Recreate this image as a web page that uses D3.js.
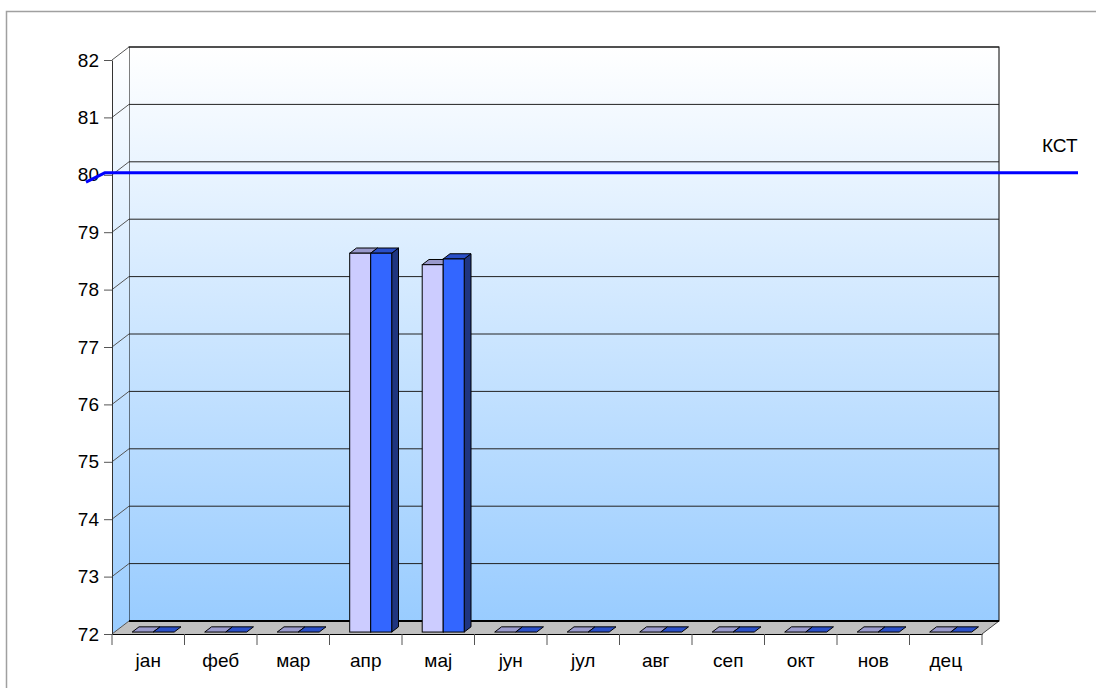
<!DOCTYPE html>
<html>
<head>
<meta charset="utf-8">
<script src="https://cdn.jsdelivr.net/npm/d3@7"></script>
<style>
body { margin: 0; background: #fff; }
svg { display: block; font-family: "Liberation Sans", Arial, sans-serif; }
</style>
</head>
<body>
<svg id="chart" width="1096" height="688"></svg>
<script>
// data
var months = ["јан","феб","мар","апр","мај","јун","јул","авг","сеп","окт","нов","дец"];
var series1 = [0, 0, 0, 78.6, 78.4, 0, 0, 0, 0, 0, 0, 0];
var series2 = [0, 0, 0, 78.6, 78.5, 0, 0, 0, 0, 0, 0, 0];
var yTicks = [72, 73, 74, 75, 76, 77, 78, 79, 80, 81, 82];
var kstT = [0, 0.019, 1];
var kstValues = [79.84, 80, 80];
var kstLabel = "КСТ";

var svg = d3.select("#chart");
var FS = 19, FONT = "Liberation Sans, Arial, sans-serif";

// 3d depth offsets
var DX = 17, DY = -13;
function proj(x, y, z) { return [x + DX * z, y + DY * z]; }

var x = d3.scaleBand().domain(months).range([112, 982]).padding(0);
var y = d3.scaleLinear().domain([72, 82]).range([634, 60]);
var kstX = d3.scaleLinear().domain([0, 1]).range([86, 1078]);

var defs = svg.append("defs");
var grad = defs.append("linearGradient").attr("id", "wall").attr("x1", 0).attr("y1", 0).attr("x2", 0).attr("y2", 1);
grad.append("stop").attr("offset", "0%").attr("stop-color", "#ffffff");
grad.append("stop").attr("offset", "100%").attr("stop-color", "#99ccff");

// outer border
svg.append("rect").attr("x", 6.5).attr("y", 11.5).attr("width", 1200).attr("height", 800)
  .attr("fill", "none").attr("stroke", "#a0a0a0").attr("stroke-width", 1.5);

var x0 = x.range()[0], x1 = x.range()[1];
var yMin = y(72), yMax = y(82);

function poly(pts) { return "M" + pts.map(function(p) { return p.join(","); }).join("L") + "Z"; }

// back wall
var bw0 = proj(x0, yMax, 1), bw1 = proj(x1, yMin, 1);
svg.append("rect").attr("x", bw0[0]).attr("y", bw0[1])
  .attr("width", bw1[0] - bw0[0]).attr("height", bw1[1] - bw0[1])
  .attr("fill", "url(#wall)").attr("stroke", "#000").attr("stroke-width", 1);

// left wall
svg.append("path")
  .attr("d", poly([proj(x0, yMax, 0), proj(x0, yMax, 1), proj(x0, yMin, 1), proj(x0, yMin, 0)]))
  .attr("fill", "url(#wall)").attr("stroke", "none");

// floor
svg.append("path")
  .attr("d", poly([proj(x0, yMin, 0), proj(x0, yMin, 1), proj(x1, yMin, 1), proj(x1, yMin, 0)]))
  .attr("fill", "#c0c0c0").attr("stroke", "none");
svg.append("line")
  .attr("x1", proj(x1, yMin, 0)[0]).attr("y1", proj(x1, yMin, 0)[1])
  .attr("x2", proj(x1, yMin, 1)[0]).attr("y2", proj(x1, yMin, 1)[1])
  .attr("stroke", "#444").attr("stroke-width", 1);

// gridlines
svg.selectAll(".grid").data(yTicks.slice(1)).enter().append("line")
  .attr("class", "grid")
  .attr("x1", function(d) { return proj(x0, y(d), 1)[0]; })
  .attr("x2", function(d) { return proj(x1, y(d), 1)[0]; })
  .attr("y1", function(d) { return proj(x0, y(d), 1)[1]; })
  .attr("y2", function(d) { return proj(x0, y(d), 1)[1]; })
  .attr("stroke", "#222").attr("stroke-width", 1);
svg.selectAll(".sgrid").data(yTicks).enter().append("line")
  .attr("class", "sgrid")
  .attr("x1", function(d) { return proj(x0, y(d), 0)[0]; })
  .attr("y1", function(d) { return proj(x0, y(d), 0)[1]; })
  .attr("x2", function(d) { return proj(x0, y(d), 1)[0]; })
  .attr("y2", function(d) { return proj(x0, y(d), 1)[1]; })
  .attr("stroke", "#555").attr("stroke-width", 1);
// floor back edge
svg.append("line")
  .attr("x1", proj(x0, yMin, 1)[0]).attr("x2", proj(x1, yMin, 1)[0])
  .attr("y1", proj(x0, yMin, 1)[1]).attr("y2", proj(x0, yMin, 1)[1])
  .attr("stroke", "#000").attr("stroke-width", 2);

// left axis
var yAxis = svg.append("g").attr("transform", "translate(" + x0 + ",0)")
  .call(d3.axisLeft(y).tickValues(yTicks).tickSize(8).tickPadding(5).tickSizeOuter(0));
yAxis.select(".domain").attr("stroke", "#333");
yAxis.selectAll(".tick line").attr("stroke", "#555");
yAxis.selectAll("text").attr("font-size", FS).attr("fill", "#000").attr("font-family", FONT);

// bottom axis (labels at centres, ticks at boundaries)
var xAxis = svg.append("g").attr("transform", "translate(0," + yMin + ")")
  .call(d3.axisBottom(x).tickSize(0).tickPadding(667 - 634 - 0.71 * FS));
xAxis.select(".domain").attr("stroke", "#000");
xAxis.selectAll("text").attr("font-size", FS).attr("fill", "#000").attr("font-family", FONT);
svg.selectAll(".xtick").data(months.concat(["end"])).enter().append("line")
  .attr("class", "xtick")
  .attr("x1", function(d) { return d === "end" ? x1 : x(d); })
  .attr("x2", function(d) { return d === "end" ? x1 : x(d); })
  .attr("y1", yMin).attr("y2", yMin + 11)
  .attr("stroke", "#555").attr("stroke-width", 1);

// bars
var barW = 21, z0 = 0.15, z1 = 0.55;
var styles = [
  { front: "#ccccff", top: "#9999cc", side: "#8080b0" },
  { front: "#3366ff", top: "#2a4fc8", side: "#1f3580" }
];
var allBars = [];
months.forEach(function(m, i) {
  [series1, series2].forEach(function(s, k) {
    allBars.push({ m: m, k: k, v: Math.max(72, s[i]) });
  });
});

var bars = svg.selectAll(".bar").data(allBars).enter().append("g").attr("class", "bar");
function bx(d) { return x(d.m) + (x.bandwidth() - 2 * barW) / 2 + 2.4 + d.k * barW; }
bars.each(function(d) {
  var g = d3.select(this);
  var xa = bx(d), xb = xa + barW, yt = y(d.v), yb = y(72);
  var st = styles[d.k];
  if (yt < yb) {
    g.append("path")
      .attr("d", poly([proj(xb, yt, z0), proj(xb, yt, z1), proj(xb, yb, z1), proj(xb, yb, z0)]))
      .attr("fill", st.side).attr("stroke", "#000").attr("stroke-width", 1).attr("stroke-linejoin", "round");
  }
  g.append("path")
    .attr("d", poly([proj(xa, yt, z0), proj(xb, yt, z0), proj(xb, yt, z1), proj(xa, yt, z1)]))
    .attr("fill", st.top).attr("stroke", "#000").attr("stroke-width", 1).attr("stroke-linejoin", "round");
  if (yt < yb) {
    var p = proj(xa, yt, z0);
    g.append("rect").attr("x", p[0]).attr("y", p[1])
      .attr("width", barW).attr("height", yb - yt)
      .attr("fill", st.front).attr("stroke", "#000").attr("stroke-width", 1);
  }
});

// КСТ line
var kstData = kstT.map(function(t, i) { return { t: t, v: kstValues[i] }; });
var line = d3.line()
  .x(function(d) { return kstX(d.t); })
  .y(function(d) { return proj(0, y(d.v), z0)[1]; });
svg.append("path").datum(kstData).attr("d", line)
  .attr("fill", "none").attr("stroke", "#0000ff").attr("stroke-width", 3);
svg.append("text").attr("x", 1042).attr("y", 152)
  .attr("font-size", FS).attr("font-family", FONT).attr("fill", "#000").text(kstLabel);
</script>
</body>
</html>
